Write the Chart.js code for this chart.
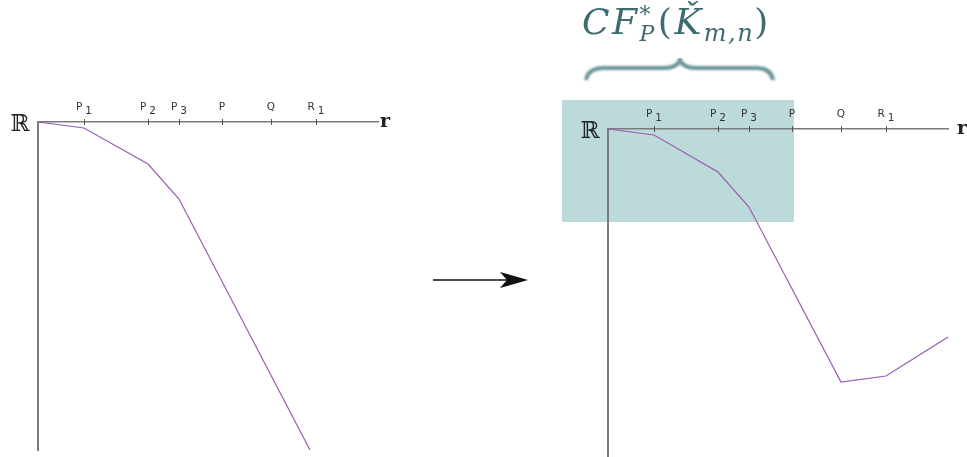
<!DOCTYPE html>
<html>
<head>
<meta charset="utf-8">
<script src="https://cdn.jsdelivr.net/npm/chart.js@4.4.0/dist/chart.umd.min.js"></script>
<style>
  body { margin: 0; background: #fff; }
  #wrap { position: relative; width: 967px; height: 457px; overflow: hidden; }
  canvas { position: absolute; top: 0; }
  #formula { position: absolute; left: 582px; top: 1px; color: #3d6b71;
    font-family: "DejaVu Serif", serif; font-style: italic; font-size: 36px; letter-spacing: 2.5px; white-space: nowrap; }
  #formula .st { display: inline-block; vertical-align: middle; line-height: 0.85; font-size: 22px; text-align: left; margin: 0 1px 0 0; }
  #formula .up { font-style: normal; }
  #formula sub { font-size: 24px; vertical-align: -7px; letter-spacing: 1.5px; }
</style>
</head>
<body>
<div id="wrap">
  <canvas id="leftChart" width="545" height="457" style="left:0"></canvas>
  <canvas id="rightChart" width="422" height="457" style="left:545px"></canvas>
  <svg width="967" height="457" style="position:absolute;left:0;top:0">
    <defs><filter id="soft"><feGaussianBlur stdDeviation="0.9"/></filter></defs>
    <path d="M586 80 Q588 68 604 68 L664 68 Q677 68 680 60 Q683 68 696 68 L756 68 Q771 68 773 80"
          fill="none" stroke="#6a9499" stroke-width="4" filter="url(#soft)"/>
    <line x1="433" y1="280" x2="508" y2="280" stroke="#111" stroke-width="1.6"/>
    <polygon points="500,272 528,280 500,288 507,280" fill="#111"/>
  </svg>
  <div id="formula">CF<span class="st">*<br>P</span><span class="up">(</span>Ǩ<sub>m,n</sub><span class="up">)</span></div>
</div>
<script>
// tick positions along r and their labels
const tickPos = [46, 110, 141, 184, 233, 278];
const tickBase = ['P', 'P', 'P', 'P', 'Q', 'R'];
const tickSub = ['1', '2', '3', '', '', '1'];

// left curve
const leftR = [0, 46, 110, 141, 272];
const leftV = [0, -6, -42, -77, -328];

// right curve
const rightR = [0, 46, 110, 141, 233, 278, 340];
const rightV = [0, -6, -43, -78, -253, -247, -208];

// shaded region on the right (r from, r to / value top, bottom)
const boxR = [-46, 186];
const boxV = [29, -93];

const axisColor = '#7b7b7b';
const lineColor = '#9b5cb0';

function pts(xs, ys) {
  return xs.map((x, i) => ({ x: x, y: ys[i] }));
}

function decor(id, rOffset, withBox) {
  return {
    id: id,
    beforeDraw(chart) {
      if (!withBox) return;
      const xs = chart.scales.x, ys = chart.scales.y, ctx = chart.ctx;
      const x0 = xs.getPixelForValue(boxR[0]), x1 = xs.getPixelForValue(boxR[1]);
      const y0 = ys.getPixelForValue(boxV[0]), y1 = ys.getPixelForValue(boxV[1]);
      ctx.save();
      ctx.fillStyle = '#bddada';
      ctx.fillRect(x0, y0, x1 - x0, y1 - y0);
      ctx.restore();
    },
    afterDraw(chart) {
      const xs = chart.scales.x, ctx = chart.ctx;
      const area = chart.chartArea;
      const top = area.top;
      ctx.save();
      // tick marks crossing the axis
      ctx.strokeStyle = '#555';
      ctx.lineWidth = 1;
      tickPos.forEach(v => {
        const x = Math.round(xs.getPixelForValue(v)) + 0.5;
        ctx.beginPath();
        ctx.moveTo(x, top - 3);
        ctx.lineTo(x, top + 3);
        ctx.stroke();
      });
      // labels with subscripts
      ctx.fillStyle = '#333';
      ctx.font = '10.5px "DejaVu Sans"';
      ctx.textAlign = 'left';
      tickPos.forEach((v, i) => {
        const x = xs.getPixelForValue(v);
        const wb = ctx.measureText(tickBase[i]).width;
        const ws = tickSub[i] ? ctx.measureText(tickSub[i]).width : 0;
        const gap = tickSub[i] ? 3 : 0;
        const start = x - (wb + gap + ws) / 2;
        ctx.fillText(tickBase[i], start, top - 12);
        if (tickSub[i]) ctx.fillText(tickSub[i], start + wb + gap, top - 8);
      });
      // axis names
      ctx.fillStyle = '#222';
      ctx.textAlign = 'center';
      ctx.font = '23px "DejaVu Serif"';
      ctx.fillText('ℝ', area.left - 18, top + 9);
      ctx.font = 'bold 19px "DejaVu Serif"';
      ctx.fillText('r', area.right + rOffset, top + 5);
      ctx.restore();
    }
  };
}

function makeChart(canvasId, rs, vs, pad, rOffset, withBox) {
  return new Chart(document.getElementById(canvasId), {
    type: 'line',
    data: {
      datasets: [{
        data: pts(rs, vs),
        borderColor: lineColor,
        borderWidth: 1.2,
        pointRadius: 0,
        tension: 0,
        fill: false
      }]
    },
    options: {
      responsive: false,
      animation: false,
      layout: { padding: pad },
      plugins: { legend: { display: false }, tooltip: { enabled: false } },
      scales: {
        x: {
          type: 'linear',
          position: 'top',
          min: 0,
          max: 340,
          afterBuildTicks: s => { s.ticks = tickPos.map(v => ({ value: v })); },
          afterFit: s => { s.height = 30; },
          ticks: { display: false },
          grid: { display: false },
          border: { display: true, color: axisColor, width: 1.5 }
        },
        y: {
          type: 'linear',
          min: -328,
          max: 0,
          afterFit: s => { s.width = 0; },
          ticks: { display: false },
          grid: { display: false },
          border: { display: true, color: axisColor, width: 2 }
        }
      }
    },
    plugins: [decor(canvasId + 'Decor', rOffset, withBox)]
  });
}

makeChart('leftChart', leftR, leftV, { left: 38, right: 167, top: 92, bottom: 7 }, 7, false);
makeChart('rightChart', rightR, rightV, { left: 63, right: 19, top: 99, bottom: 0 }, 14, true);
</script>
</body>
</html>
